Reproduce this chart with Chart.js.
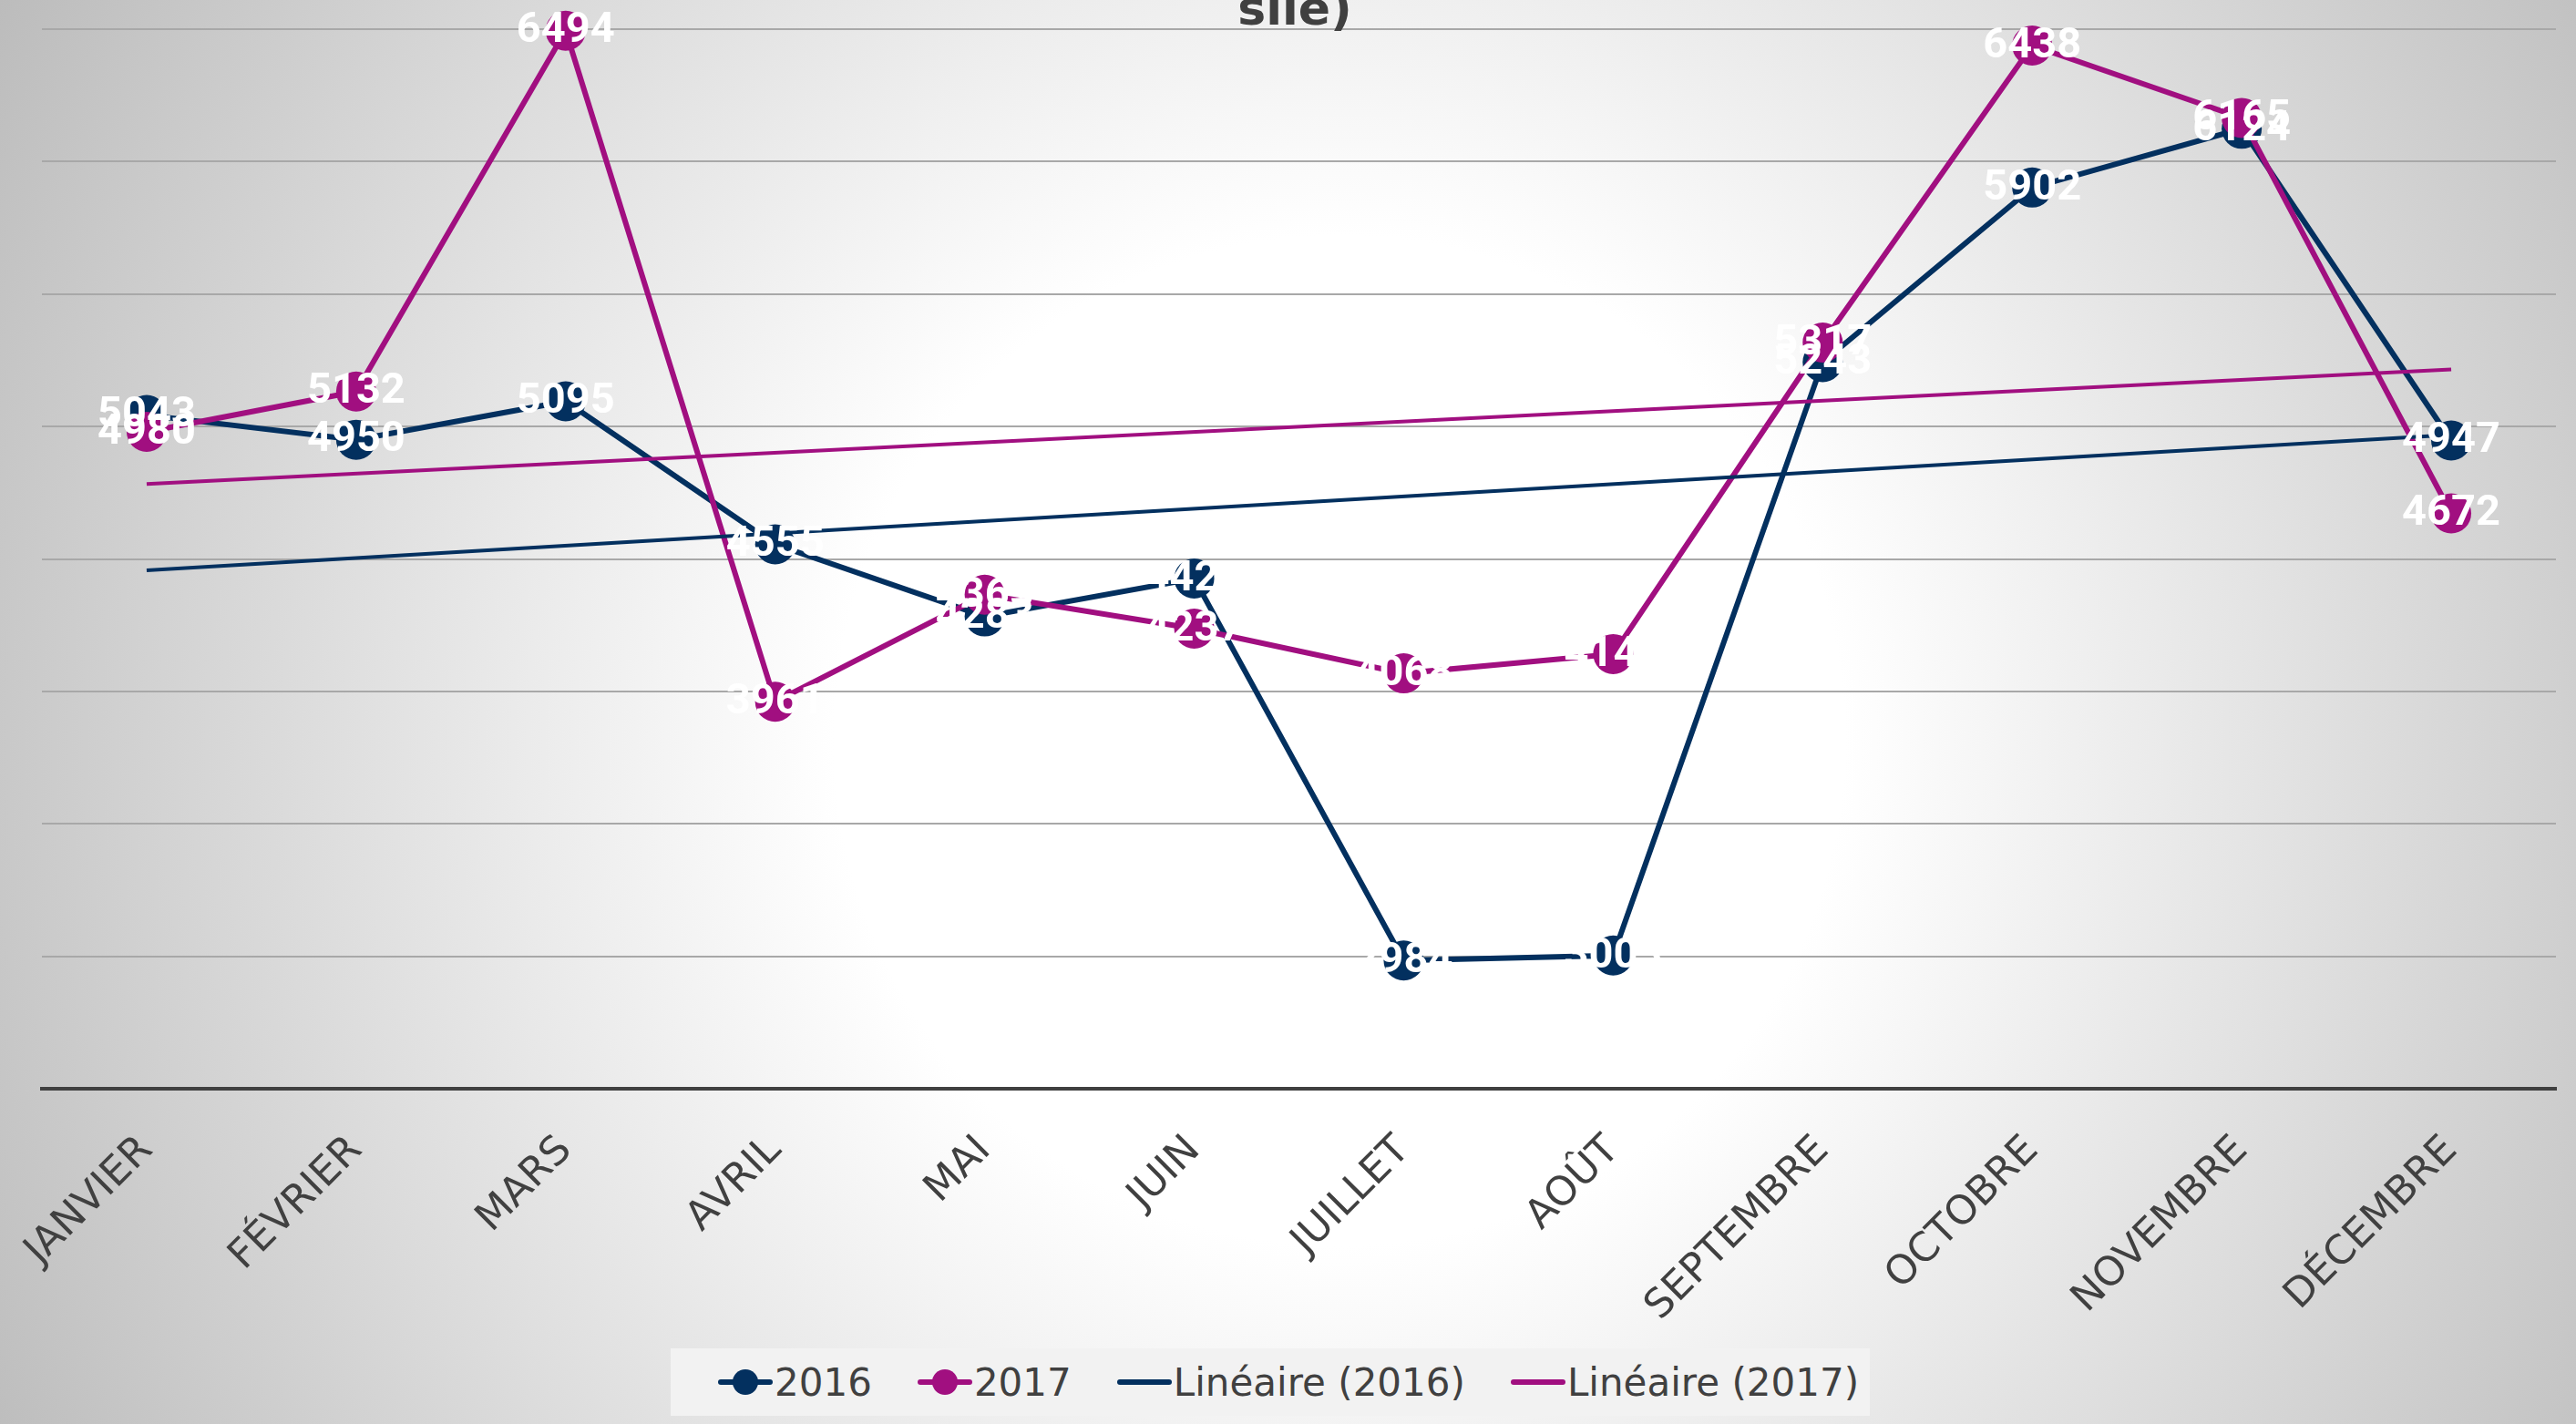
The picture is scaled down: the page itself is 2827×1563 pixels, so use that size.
<!DOCTYPE html>
<html>
<head>
<meta charset="utf-8">
<script src="https://cdn.jsdelivr.net/npm/chart.js@4/dist/chart.umd.min.js"></script>
<style>
    body {
        margin: 0;
        width: 2827px;
        height: 1563px;
        overflow: hidden;
        background: radial-gradient(circle farthest-corner at 52% 52%, #ffffff 33%, #bcbcbc 100%);
    }
    #wrap { position: absolute; left: 0; top: 0; width: 2827px; height: 1563px; }
    #legend {
        position: absolute;
        left: 736px;
        top: 1480px;
        width: 1316px;
        height: 74px;
        background: #f2f2f2;
        display: flex;
        align-items: center;
        padding-left: 52px;
        box-sizing: border-box;
        font-family: "DejaVu Sans", sans-serif;
        font-size: 42px;
        color: #404040;
        white-space: nowrap;
    }
    .item { display: flex; align-items: center; margin-right: 50px; flex: none; }
    .mark { position: relative; width: 60px; height: 30px; margin-right: 2px; flex: none; }
    .mark .ln { position: absolute; left: 0; right: 0; top: 12px; height: 6px; border-radius: 3px; }
    .mark .dot { position: absolute; left: 16px; top: 1px; width: 28px; height: 28px; border-radius: 50%; }
</style>
</head>
<body>
<div id="wrap">
    <canvas id="myChart" width="2827" height="1563"></canvas>
    <div id="legend"></div>
</div>
<script>
var months = ['JANVIER', 'FÉVRIER', 'MARS', 'AVRIL', 'MAI', 'JUIN', 'JUILLET', 'AOÛT', 'SEPTEMBRE', 'OCTOBRE', 'NOVEMBRE', 'DÉCEMBRE'];
var values2016 = [5043, 4950, 5095, 4555, 4283, 4426, 2984, 3003, 5243, 5902, 6124, 4947];
var values2017 = [4980, 5132, 6494, 3961, 4365, 4237, 4068, 4141, 5317, 6438, 6165, 4672];
// linear trend lines, value at janvier and at décembre as read on the chart
var trend2016 = [4457, 4969];
var trend2017 = [4783, 5215];
var yMin = 2500;
var yMax = 6500;
var yStep = 500;

var navy = '#03305f';
var magenta = '#a10f80';

// white value labels centered on the markers
var valueLabels = {
    id: 'valueLabels',
    afterDatasetsDraw: function (chart) {
        var ctx = chart.ctx;
        ctx.save();
        ctx.font = 'bold 47px Roboto';
        ctx.fillStyle = '#ffffff';
        ctx.textAlign = 'center';
        ctx.textBaseline = 'middle';
        [3, 2].forEach(function (i) {
            var ds = chart.data.datasets[i];
            chart.getDatasetMeta(i).data.forEach(function (pt, j) {
                ctx.fillText(ds.data[j], pt.x, pt.y + 1);
            });
        });
        ctx.restore();
    }
};

// only the bottom of the title is left in the picture
var titleBit = {
    id: 'titleBit',
    afterDraw: function (chart) {
        var ctx = chart.ctx;
        ctx.save();
        ctx.font = 'bold 52px "DejaVu Sans"';
        ctx.fillStyle = '#404040';
        ctx.textAlign = 'center';
        ctx.textBaseline = 'alphabetic';
        ctx.fillText('sile)', 1421, 27);
        ctx.restore();
    }
};

function trendData(ends) {
    return [{ x: months[0], y: ends[0] }, { x: months[months.length - 1], y: ends[1] }];
}

function buildLegend() {
    var items = [
        { text: '2016', color: navy, dot: true },
        { text: '2017', color: magenta, dot: true },
        { text: 'Linéaire (2016)', color: navy, dot: false },
        { text: 'Linéaire (2017)', color: magenta, dot: false }
    ];
    var legend = document.getElementById('legend');
    items.forEach(function (it) {
        var item = document.createElement('div');
        item.className = 'item';
        var mark = document.createElement('div');
        mark.className = 'mark';
        var ln = document.createElement('div');
        ln.className = 'ln';
        ln.style.background = it.color;
        mark.appendChild(ln);
        if (it.dot) {
            var dot = document.createElement('div');
            dot.className = 'dot';
            dot.style.background = it.color;
            mark.appendChild(dot);
        }
        item.appendChild(mark);
        var span = document.createElement('span');
        span.textContent = it.text;
        item.appendChild(span);
        legend.appendChild(item);
    });
}

const ctx = document.getElementById('myChart');

new Chart(ctx, {
    type: 'line',
    data: {
        labels: months,
        datasets: [{
            label: 'Linéaire (2017)',
            data: trendData(trend2017),
            borderColor: magenta,
            borderWidth: 4,
            pointRadius: 0,
            order: 0
        }, {
            label: 'Linéaire (2016)',
            data: trendData(trend2016),
            borderColor: navy,
            borderWidth: 4,
            pointRadius: 0,
            order: 1
        }, {
            label: '2017',
            data: values2017,
            borderColor: magenta,
            borderWidth: 6,
            pointRadius: 22,
            pointBorderWidth: 0,
            pointBackgroundColor: magenta,
            order: 2
        }, {
            label: '2016',
            data: values2016,
            borderColor: navy,
            borderWidth: 6,
            pointRadius: 22,
            pointBorderWidth: 0,
            pointBackgroundColor: navy,
            order: 3
        }]
    },
    options: {
        responsive: false,
        animation: false,
        devicePixelRatio: 1,
        events: [],
        clip: false,
        layout: { padding: { left: 46, right: 12, top: 32, bottom: 0 } },
        elements: { line: { tension: 0 } },
        plugins: {
            legend: { display: false },
            tooltip: { enabled: false }
        },
        scales: {
            x: {
                offset: true,
                grid: { display: false, drawTicks: false },
                border: { display: true, color: '#404040', width: 4 },
                ticks: {
                    color: '#404040',
                    font: { family: 'DejaVu Sans', size: 44 },
                    minRotation: 45,
                    maxRotation: 45,
                    autoSkip: false,
                    padding: 42
                },
                afterFit: function (scale) {
                    scale.height = 1563 - 1195;
                    scale.paddingLeft = 0;
                    scale.paddingRight = 0;
                }
            },
            y: {
                min: yMin,
                max: yMax,
                grid: { color: '#a8a8a8', lineWidth: 2, drawTicks: false },
                border: { display: false },
                ticks: { display: false, stepSize: yStep },
                afterFit: function (scale) {
                    scale.width = 0;
                    scale.paddingTop = 0;
                    scale.paddingBottom = 0;
                }
            }
        }
    },
    plugins: [valueLabels, titleBit]
});

buildLegend();
</script>
</body>
</html>
